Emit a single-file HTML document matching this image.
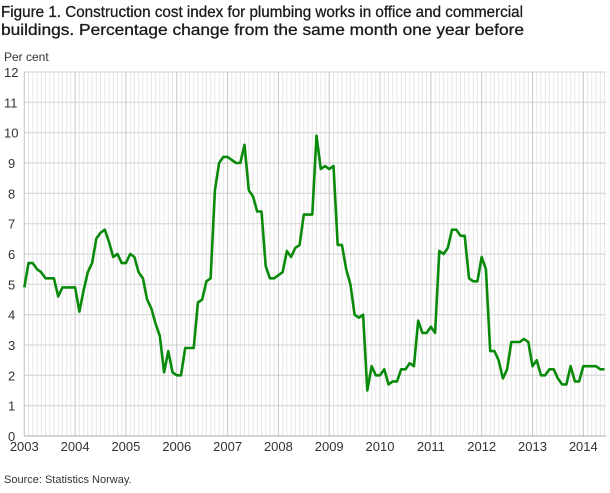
<!DOCTYPE html>
<html><head><meta charset="utf-8"><style>
body{margin:0;background:#fff;width:610px;height:488px;overflow:hidden;font-family:"Liberation Sans",sans-serif;}
</style></head><body>
<svg id="s" width="610" height="488" xmlns="http://www.w3.org/2000/svg" font-family="Liberation Sans, sans-serif">
<text x="1" y="17" font-size="16" fill="#1a1a1a" stroke="#1a1a1a" stroke-width="0.3" textLength="522" lengthAdjust="spacingAndGlyphs">Figure 1. Construction cost index for plumbing works in office and commercial</text>
<text x="1" y="35" font-size="16" fill="#1a1a1a" stroke="#1a1a1a" stroke-width="0.3" textLength="523" lengthAdjust="spacingAndGlyphs">buildings. Percentage change from the same month one year before</text>
<text x="4" y="61" font-size="12" fill="#333">Per cent</text>
<text x="4" y="483" font-size="11" fill="#333">Source: Statistics Norway.</text>
<g id="grid"></g>
<g id="lab" font-size="13" fill="#333"></g>
<polyline id="ln" fill="none" stroke="#0a8a0a" stroke-width="2.6" stroke-linejoin="round"/>
</svg>
<script>
var L=24.3,T=72,B=436,R=606,yr=50.82,m=yr/12,u=(B-T)/12;
var g='',lab='';
for(var x=L;x<=R+0.1;x+=m){g+='<line x1="'+x.toFixed(1)+'" y1="'+T+'" x2="'+x.toFixed(1)+'" y2="'+B+'" stroke="#e6e6e6" stroke-width="1"/>';}
for(var i=0;i<=12;i++){var y=B-i*u;g+='<line x1="'+L+'" y1="'+y.toFixed(1)+'" x2="'+R+'" y2="'+y.toFixed(1)+'" stroke="#d2d2d2" stroke-width="1"/>';
lab+='<text x="'+(i>=10?4:8)+'" y="'+(y+5).toFixed(1)+'">'+i+'</text>';}
for(var k=0;k<=11;k++){var x=L+k*yr;g+='<line x1="'+x.toFixed(1)+'" y1="'+T+'" x2="'+x.toFixed(1)+'" y2="'+B+'" stroke="#c8c8c8" stroke-width="1"/>';
lab+='<text x="'+x.toFixed(1)+'" y="451" text-anchor="middle">'+(2003+k)+'</text>';}
g+='<line x1="'+L+'" y1="'+B+'" x2="'+R+'" y2="'+B+'" stroke="#aaa" stroke-width="1"/>';
document.getElementById('grid').innerHTML=g;document.getElementById('lab').innerHTML=lab;
var d=[4.9,5.7,5.7,5.5,5.4,5.2,5.2,5.2,4.6,4.9,4.9,4.9,
4.9,4.1,4.8,5.4,5.7,6.5,6.7,6.8,6.4,5.9,6.0,5.7,
5.7,6.0,5.9,5.4,5.2,4.5,4.2,3.7,3.3,2.1,2.8,2.1,
2.0,2.0,2.9,2.9,2.9,4.4,4.5,5.1,5.2,8.1,9.0,9.2,
9.2,9.1,9.0,9.0,9.6,8.1,7.9,7.4,7.4,5.6,5.2,5.2,
5.3,5.4,6.1,5.9,6.2,6.3,7.3,7.3,7.3,9.9,8.8,8.9,
8.8,8.9,6.3,6.3,5.5,5.0,4.0,3.9,4.0,1.5,2.3,2.0,
2.0,2.2,1.7,1.8,1.8,2.2,2.2,2.4,2.3,3.8,3.4,3.4,
3.6,3.4,6.1,6.0,6.2,6.8,6.8,6.6,6.6,5.2,5.1,5.1,
5.9,5.5,2.8,2.8,2.5,1.9,2.2,3.1,3.1,3.1,3.2,3.1,
2.3,2.5,2.0,2.0,2.2,2.2,1.9,1.7,1.7,2.3,1.8,1.8,
2.3,2.3,2.3,2.3,2.2,2.2];
var p=d.map(function(v,i){return (L+i*m).toFixed(1)+','+(B-v*u).toFixed(1);}).join(' ');
document.getElementById('ln').setAttribute('points',p);
</script>
</body></html>
